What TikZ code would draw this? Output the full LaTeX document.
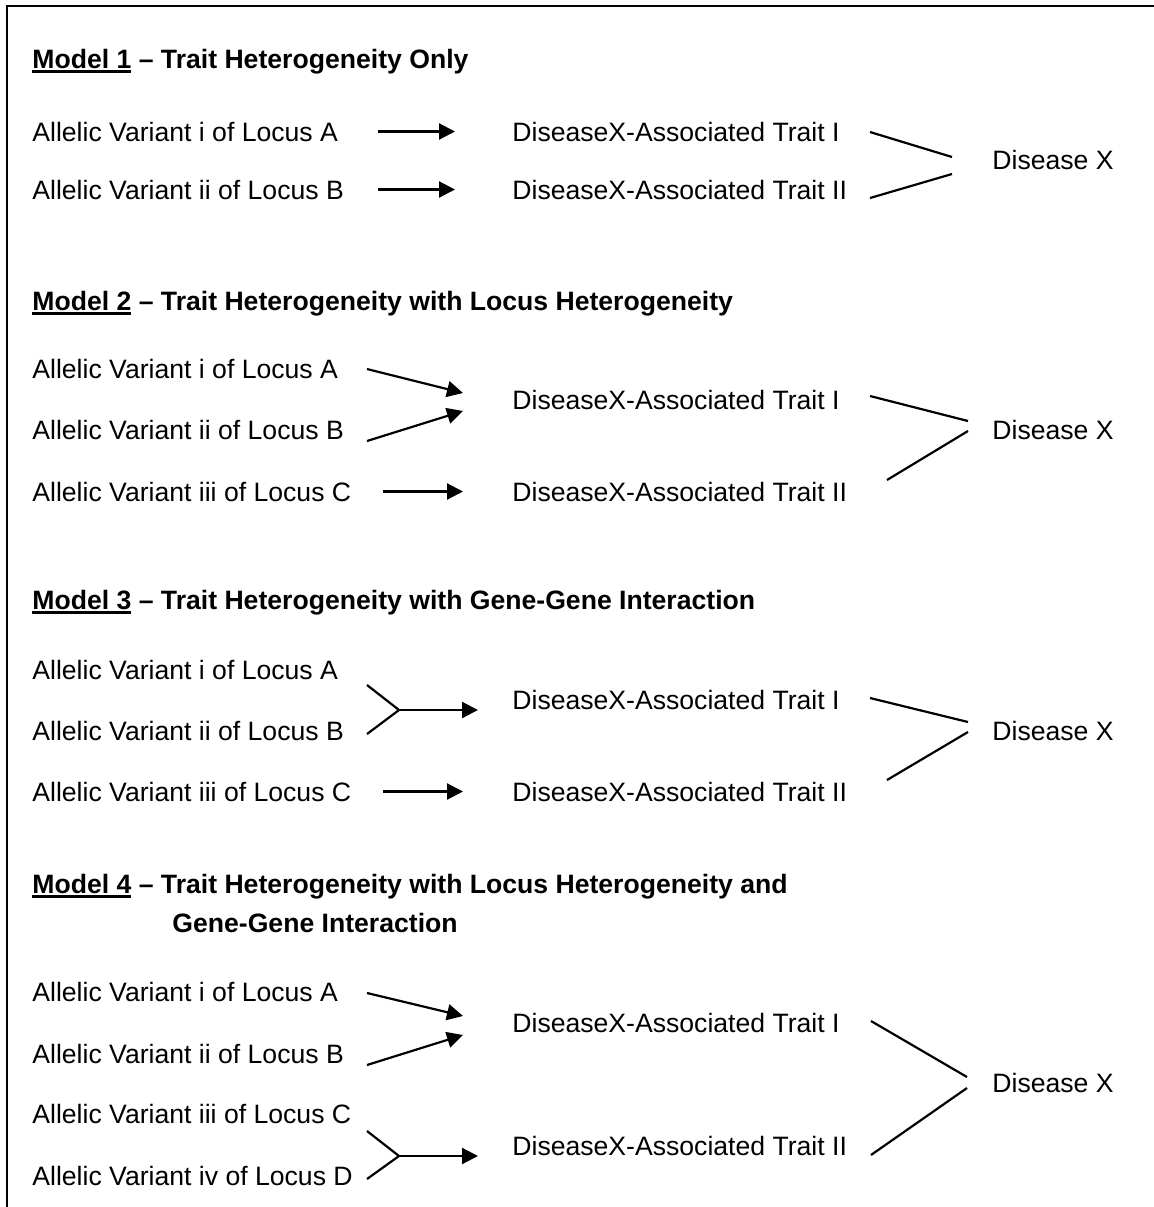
\documentclass[tikz,border=0pt]{standalone}
\usepackage{fontspec}
\setmainfont{Liberation Sans}
\usetikzlibrary{arrows.meta}
\tikzset{
  txt/.style={anchor=base west, inner sep=0pt, font=\fontsize{13.3}{16}\selectfont},
  ttl/.style={txt, font=\fontsize{13.3}{16}\selectfont\bfseries},
  arr/.style={line width=1.1pt, -{Triangle[length=8pt,width=8pt]}},
  lnk/.style={line width=1.1pt},
}
\newsavebox{\mdlbox}
\newcommand{\mdl}[1]{\sbox{\mdlbox}{Model #1}\rlap{\rule[-2.6pt]{\wd\mdlbox}{1.4pt}}\usebox{\mdlbox}}
\begin{document}
\begin{tikzpicture}[x=0.5pt,y=-0.5pt]
    \useasboundingbox (0,0) rectangle (1154,1207);
    % frame, open at right and bottom
    \draw[line width=1.3pt] (7,1207) -- (7,6) -- (1154,6);

    % columns for the straight arrows
    \coordinate (s1) at (378,0);
    \coordinate (e1) at (455,0);
    \coordinate (sc) at (383,0);
    \coordinate (ec) at (463,0);

    % Model 1
    \node[ttl] (m1) at (32,68) {\mdl{1} – Trait Heterogeneity Only};
    \node[txt] (a1) at (32,141) {Allelic Variant i of Locus A};
    \node[txt] (b1) at (32,199) {Allelic Variant ii of Locus B};
    \node[txt] (t1a) at (512,141) {DiseaseX-Associated Trait I};
    \node[txt] (t1b) at (512,199) {DiseaseX-Associated Trait II};
    \node[txt] (x1) at (992,169) {Disease X};
    \draw[arr] (a1 -| s1) -- (t1a -| e1);
    \draw[arr] (b1 -| s1) -- (t1b -| e1);
    \coordinate (t1af) at (870,132); \coordinate (x1u) at (952,157);
    \coordinate (t1bf) at (870,198); \coordinate (x1l) at (952,174);
    \draw[lnk] (t1af) -- (x1u);
    \draw[lnk] (t1bf) -- (x1l);

    % Model 2
    \node[ttl] (m2) at (32,310) {\mdl{2} – Trait Heterogeneity with Locus Heterogeneity};
    \node[txt] (a2) at (32,378) {Allelic Variant i of Locus A};
    \node[txt] (b2) at (32,439) {Allelic Variant ii of Locus B};
    \node[txt] (c2) at (32,501) {Allelic Variant iii of Locus C};
    \node[txt] (t2a) at (512,409) {DiseaseX-Associated Trait I};
    \node[txt] (t2b) at (512,501) {DiseaseX-Associated Trait II};
    \node[txt] (x2) at (992,439) {Disease X};
    \coordinate (a2s) at (367,369); \coordinate (t2ae) at (463,393);
    \coordinate (b2s) at (367,441); \coordinate (t2be) at (463,411);
    \draw[arr] (a2s) -- (t2ae);
    \draw[arr] (b2s) -- (t2be);
    \draw[arr] (c2 -| sc) -- (t2b -| ec);
    \coordinate (t2af) at (870,396); \coordinate (x2u) at (968,421);
    \coordinate (t2bf) at (887,480); \coordinate (x2l) at (968,431);
    \draw[lnk] (t2af) -- (x2u);
    \draw[lnk] (t2bf) -- (x2l);

    % Model 3
    \node[ttl] (m3) at (32,609) {\mdl{3} – Trait Heterogeneity with Gene-Gene Interaction};
    \node[txt] (a3) at (32,679) {Allelic Variant i of Locus A};
    \node[txt] (b3) at (32,740) {Allelic Variant ii of Locus B};
    \node[txt] (c3) at (32,801) {Allelic Variant iii of Locus C};
    \node[txt] (t3a) at (512,709) {DiseaseX-Associated Trait I};
    \node[txt] (t3b) at (512,801) {DiseaseX-Associated Trait II};
    \node[txt] (x3) at (992,740) {Disease X};
    \coordinate (a3s) at (367,685); \coordinate (b3s) at (367,734);
    \coordinate (j3) at (399,710); \coordinate (t3ae) at (478,710);
    \draw[lnk] (a3s) -- (j3) -- (b3s);
    \draw[arr] (j3) -- (t3ae);
    \draw[arr] (c3 -| sc) -- (t3b -| ec);
    \coordinate (t3af) at (870,698); \coordinate (x3u) at (968,722);
    \coordinate (t3bf) at (887,780); \coordinate (x3l) at (968,732);
    \draw[lnk] (t3af) -- (x3u);
    \draw[lnk] (t3bf) -- (x3l);

    % Model 4
    \node[ttl] (m4) at (32,893) {\mdl{4} – Trait Heterogeneity with Locus Heterogeneity and};
    \node[ttl] (m4b) at (172,932) {Gene-Gene Interaction};
    \node[txt] (a4) at (32,1001) {Allelic Variant i of Locus A};
    \node[txt] (b4) at (32,1063) {Allelic Variant ii of Locus B};
    \node[txt] (c4) at (32,1123) {Allelic Variant iii of Locus C};
    \node[txt] (d4) at (32,1185) {Allelic Variant iv of Locus D};
    \node[txt] (t4a) at (512,1032) {DiseaseX-Associated Trait I};
    \node[txt] (t4b) at (512,1155) {DiseaseX-Associated Trait II};
    \node[txt] (x4) at (992,1092) {Disease X};
    \coordinate (a4s) at (367,993); \coordinate (t4ae) at (463,1016);
    \coordinate (b4s) at (367,1065); \coordinate (t4ae2) at (463,1035);
    \draw[arr] (a4s) -- (t4ae);
    \draw[arr] (b4s) -- (t4ae2);
    \coordinate (c4s) at (367,1131); \coordinate (d4s) at (367,1179);
    \coordinate (j4) at (399,1156); \coordinate (t4be) at (478,1156);
    \draw[lnk] (c4s) -- (j4) -- (d4s);
    \draw[arr] (j4) -- (t4be);
    \coordinate (t4af) at (871,1021); \coordinate (x4u) at (967,1077);
    \coordinate (t4bf) at (871,1155); \coordinate (x4l) at (967,1088);
    \draw[lnk] (t4af) -- (x4u);
    \draw[lnk] (t4bf) -- (x4l);
\end{tikzpicture}
\end{document}
